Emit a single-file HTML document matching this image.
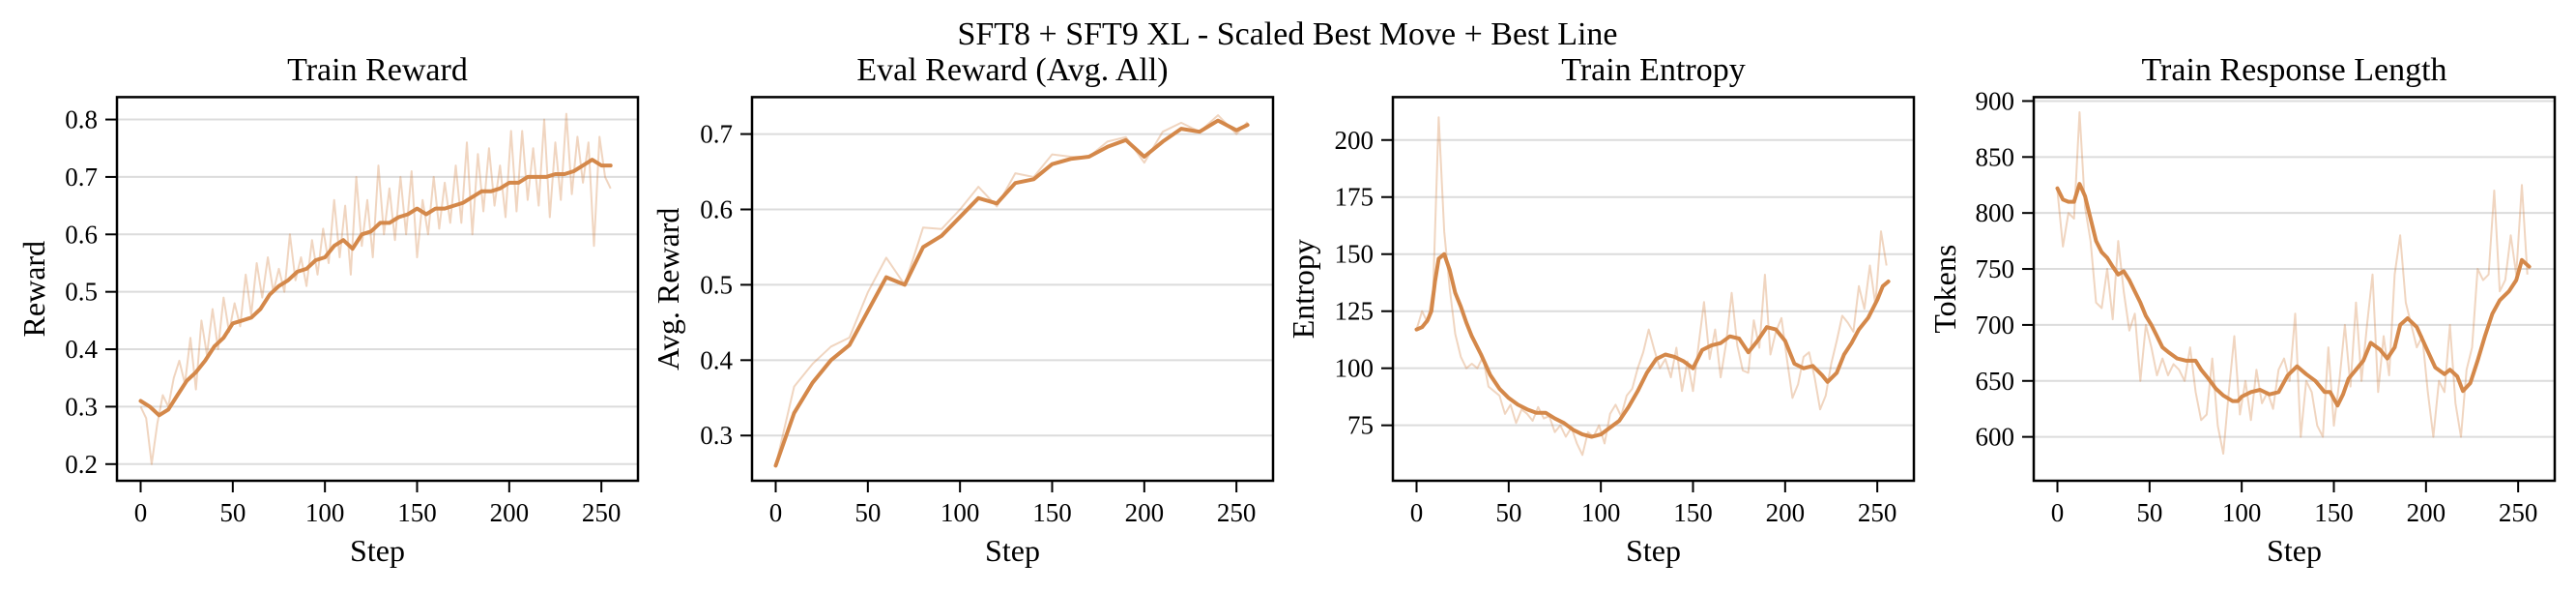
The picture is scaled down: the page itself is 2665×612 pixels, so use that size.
<!DOCTYPE html>
<html><head><meta charset="utf-8"><style>
html,body{margin:0;padding:0;background:#fff;}
svg{display:block;font-family:"Liberation Serif","DejaVu Serif",serif;}
</style></head><body>
<svg id="fig" width="2665" height="612" viewBox="0 0 2665 612" xmlns="http://www.w3.org/2000/svg">
<rect width="2665" height="612" fill="#fff"/>
<text x="1332" y="46" font-size="34" text-anchor="middle">SFT8 + SFT9 XL - Scaled Best Move + Best Line</text>
</svg>
<script>
// ---- Data ----
const rewardRawSteps = [0,3,6,9,12,15,18,21,24,27,30,33,36,39,42,45,48,51,54,57,60,63,66,69,72,75,78,81,84,87,90,93,96,99,102,105,108,111,114,117,120,123,126,129,132,135,138,141,144,147,150,153,156,159,162,165,168,171,174,177,180,183,186,189,192,195,198,201,204,207,210,213,216,219,222,225,228,231,234,237,240,243,246,249,252,255];
const rewardRaw = [0.30,0.28,0.20,0.27,0.32,0.30,0.35,0.38,0.34,0.42,0.33,0.45,0.39,0.47,0.40,0.49,0.43,0.48,0.44,0.53,0.46,0.55,0.49,0.56,0.50,0.54,0.50,0.60,0.52,0.56,0.51,0.59,0.53,0.61,0.55,0.66,0.56,0.65,0.53,0.70,0.58,0.66,0.56,0.72,0.60,0.68,0.59,0.70,0.60,0.71,0.56,0.66,0.60,0.70,0.61,0.69,0.62,0.72,0.62,0.76,0.60,0.74,0.64,0.75,0.65,0.72,0.63,0.78,0.64,0.78,0.66,0.75,0.65,0.80,0.63,0.76,0.66,0.81,0.67,0.77,0.69,0.76,0.58,0.77,0.70,0.68];
const rewardSmoothSteps = [0,5,10,15,20,25,30,35,40,45,50,55,60,65,70,75,80,85,90,95,100,105,110,115,120,125,130,135,140,145,150,155,160,165,170,175,180,185,190,195,200,205,210,215,220,225,230,235,240,245,250,255];
const rewardSmooth = [0.31,0.30,0.285,0.295,0.32,0.345,0.36,0.38,0.405,0.42,0.445,0.45,0.455,0.47,0.495,0.51,0.52,0.535,0.54,0.555,0.56,0.58,0.59,0.575,0.60,0.605,0.62,0.62,0.63,0.635,0.645,0.635,0.645,0.645,0.65,0.655,0.665,0.675,0.675,0.68,0.69,0.69,0.70,0.70,0.70,0.705,0.705,0.71,0.72,0.73,0.72,0.72];

const evalSteps = [0,10,20,30,40,50,60,70,80,90,100,110,120,130,140,150,160,170,180,190,200,210,220,230,240,250,256];
const evalRaw = [0.26,0.365,0.395,0.418,0.43,0.49,0.536,0.50,0.576,0.574,0.60,0.63,0.604,0.648,0.643,0.673,0.67,0.67,0.69,0.696,0.662,0.703,0.715,0.703,0.725,0.70,0.716];
const evalSmooth = [0.26,0.33,0.37,0.40,0.42,0.465,0.51,0.50,0.55,0.565,0.59,0.615,0.608,0.635,0.64,0.66,0.667,0.67,0.683,0.692,0.67,0.69,0.707,0.703,0.718,0.705,0.712];

const entropyRaw = [117,125,120,135,210,160,135,115,105,100,102,100,105,92,90,88,80,84,76,82,80,77,83,78,79,72,75,70,74,67,62,72,70,75,67,80,84,79,88,91,100,107,117,108,100,104,96,109,90,103,90,110,129,104,117,96,111,133,110,99,98,121,109,141,106,116,122,104,87,93,105,107,96,82,88,102,112,123,120,116,136,126,145,128,160,145];
const entropySmoothSteps = [0,3,6,8,10,12,15,18,21,24,27,30,35,40,45,50,55,60,65,70,75,80,85,90,95,100,105,110,115,120,125,130,135,140,145,150,155,160,165,170,175,180,185,190,195,200,205,210,215,220,223,228,232,236,240,245,250,253,256];
const entropySmooth = [117,118,121,125,138,148,150,143,133,127,120,114,106,97,91,87,84,82,80.5,80.5,78,76,73,71,70,71,74,77,83,90,98,104,106,105,103,100,108,110,111,114,113,107,112,118,117,112,102,100,101,97,94,98,106,111,117,122,130,136,138];

const tokensRaw = [820,770,800,795,890,805,775,720,715,750,705,775,730,695,710,650,700,680,655,670,655,665,660,650,680,640,615,620,670,610,585,640,690,620,650,615,660,630,640,625,660,670,650,710,600,650,640,610,600,680,610,650,700,645,720,650,700,745,640,690,655,745,780,720,700,680,690,640,600,650,640,700,630,600,660,680,750,740,745,820,730,740,780,745,825,745];
const tokensSmoothSteps = [0,3,6,9,12,15,18,21,24,27,30,33,36,39,42,45,48,51,54,57,60,65,70,75,78,82,86,90,95,98,100,105,110,115,120,125,130,135,140,145,148,152,155,158,162,166,170,175,179,183,186,190,195,200,205,210,213,217,220,224,228,232,236,240,245,249,252,256];
const tokensSmooth = [822,812,810,810,826,815,795,775,765,760,752,745,748,740,730,720,708,700,690,680,676,670,668,668,660,652,643,637,632,632,636,640,642,638,640,655,663,656,650,640,640,628,638,652,660,668,684,678,670,680,700,706,698,680,662,656,660,654,641,648,668,690,710,722,730,740,758,752];

const xTicks = [0,50,100,150,200,250];
const rewardTicks = [0.2,0.3,0.4,0.5,0.6,0.7,0.8];
const evalTicks = [0.3,0.4,0.5,0.6,0.7];
const entropyTicks = [75,100,125,150,175,200];
const tokensTicks = [600,650,700,750,800,850,900];

// ---- Drawing ----
const NS = "http://www.w3.org/2000/svg";
const svg = document.getElementById('fig');
const COLOR = "#d4884a";
function mk(tag, attrs, parent){const e=document.createElementNS(NS,tag);for(const k in attrs)e.setAttribute(k,attrs[k]);(parent||svg).appendChild(e);return e;}

function panel(cfg){
  const g = mk('g',{});
  
  
  const L=cfg.left, R=cfg.left+539, T=100.4, B=497;
  const xs = s => L + (s - (-12.85)) / 282.7 * (R - L);
  const ys = v => B - (v - cfg.ymin) / (cfg.ymax - cfg.ymin) * (B - T);
  // grid + y ticks
  cfg.ticks.forEach(t => {
    const y = ys(t);
    const gl = mk('line',{x1:L,x2:R,y1:y,y2:y,stroke:'#dcdcdc','stroke-width':2},g);
    
    
    mk('line',{x1:L-12,x2:L,y1:y,y2:y,stroke:'#000','stroke-width':2},g);
    const tx = mk('text',{x:L-20,y:y+9,'font-size':27,'text-anchor':'end'},g);
    tx.textContent = cfg.fmt(t);
    
    
  });
  xTicks.forEach(t => {
    const x = xs(t);
    mk('line',{x1:x,x2:x,y1:B,y2:B+12,stroke:'#000','stroke-width':2},g);
    const tx = mk('text',{x:x,y:539,'font-size':27,'text-anchor':'middle'},g);
    tx.textContent = t;
    
    
  });
  const pts = (st, vals) => vals.map((v,i)=>xs(st[i]).toFixed(1)+','+ys(v).toFixed(1)).join(' ');
  const raw = mk('polyline',{points:pts(cfg.rawSteps,cfg.raw),fill:'none',stroke:COLOR,'stroke-opacity':0.35,'stroke-width':2,'stroke-linejoin':'round'},g);
  
  
  const sm = mk('polyline',{points:pts(cfg.smSteps,cfg.sm),fill:'none',stroke:COLOR,'stroke-width':4,'stroke-linejoin':'round','stroke-linecap':'round'},g);
  
  
  const box = mk('rect',{x:L,y:T,width:R-L,height:B-T,fill:'none',stroke:'#000','stroke-width':2.5},g);
  
  
  const title = mk('text',{x:(L+R)/2,y:83,'font-size':34,'text-anchor':'middle'},g);
  title.textContent = cfg.title;
  
  
  const xl = mk('text',{x:(L+R)/2,y:580,'font-size':32,'text-anchor':'middle'},g);
  xl.textContent = 'Step';
  
  
  const yl = mk('text',{x:0,y:0,'font-size':32,'text-anchor':'middle',transform:`translate(${cfg.ylx},${(T+B)/2}) rotate(-90)`},g);
  yl.textContent = cfg.ylabel;
  
  
}

const every3 = rewardRawSteps;
panel({name:'train-reward-panel',left:121,ymin:0.171,ymax:0.839,ticks:rewardTicks,fmt:t=>t.toFixed(1),
  rawSteps:every3,raw:rewardRaw,smSteps:rewardSmoothSteps,sm:rewardSmooth,title:'Train Reward',ylabel:'Reward',ylx:46});
panel({name:'eval-reward-panel',left:778,ymin:0.240,ymax:0.749,ticks:evalTicks,fmt:t=>t.toFixed(1),
  rawSteps:evalSteps,raw:evalRaw,smSteps:evalSteps,sm:evalSmooth,title:'Eval Reward (Avg. All)',ylabel:'Avg. Reward',ylx:702});
panel({name:'train-entropy-panel',left:1441,ymin:50.7,ymax:218.8,ticks:entropyTicks,fmt:t=>String(t),
  rawSteps:every3,raw:entropyRaw,smSteps:entropySmoothSteps,sm:entropySmooth,title:'Train Entropy',ylabel:'Entropy',ylx:1359});
panel({name:'train-response-length-panel',left:2104,ymin:560.8,ymax:903.5,ticks:tokensTicks,fmt:t=>String(t),
  rawSteps:every3,raw:tokensRaw,smSteps:tokensSmoothSteps,sm:tokensSmooth,title:'Train Response Length',ylabel:'Tokens',ylx:2023});
</script>
</body></html>
